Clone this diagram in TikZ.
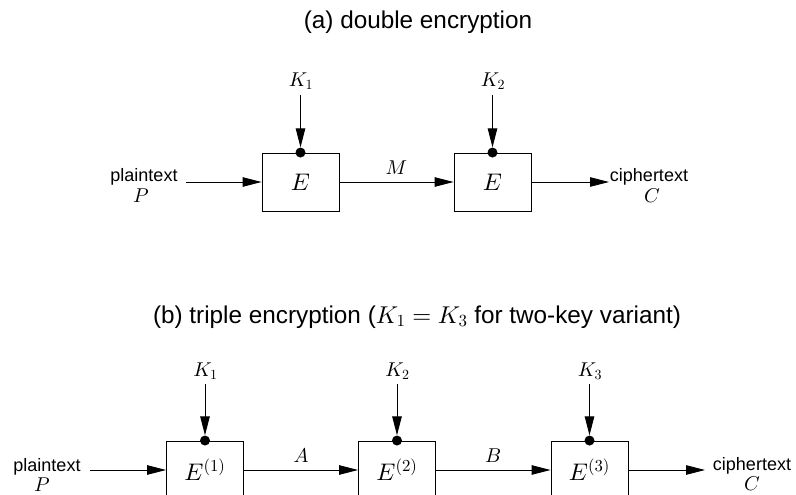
\documentclass[tikz,border=0pt]{standalone}
\usepackage{fontspec}
\setmainfont{Liberation Sans}
\DeclareFontFamily{OML}{cmm}{\skewchar\font127}
\DeclareFontShape{OML}{cmm}{m}{it}{<->cmmi10}{}
\DeclareFontFamily{OT1}{cmr}{\hyphenchar\font45}
\DeclareFontShape{OT1}{cmr}{m}{n}{<->cmr10}{}
\DeclareFontFamily{OMS}{cmsy}{\skewchar\font48}
\DeclareFontShape{OMS}{cmsy}{m}{n}{<->cmsy10}{}
\usetikzlibrary{arrows.meta}
\begin{document}
\begin{tikzpicture}[x=1pt,y=-1pt,
  box/.style={draw,line width=0.9pt,minimum width=77pt,minimum height=58pt,inner sep=0pt,font=\fontsize{24}{26}\selectfont},
  keydot/.style={circle,fill,inner sep=0pt,minimum size=10pt},
  lab/.style={font=\fontsize{18}{20}\selectfont,inner sep=0pt},
  mlab/.style={font=\fontsize{20}{22}\selectfont,inner sep=0pt},
  ttl/.style={font=\fontsize{24.3}{27}\selectfont,inner sep=0pt},
  arr/.style={line width=0.9pt,-{Triangle[length=19pt,width=9.5pt]}}]
\useasboundingbox (0,0) rectangle (796,495);
% ---------- (a) ----------
\node[ttl] (ta) at (418,22) {(a) double encryption};
\node[box] (a1) at (300.5,182) {$E$};
\node[box] (a2) at (492.5,182) {$E$};
\node[keydot] (ad1) at (a1.north) {};
\node[keydot] (ad2) at (a2.north) {};
\node[mlab] (ak1) at (301,81) {$K_1$};
\node[mlab] (ak2) at (493,81) {$K_2$};
\coordinate (ak1s) at (300.5,95);
\coordinate (ak2s) at (492.5,95);
\draw[arr] (ak1s) -- (ad1);
\draw[arr] (ak2s) -- (ad2);
\node[lab] (apl) at (144,177) {plaintext};
\node[mlab] (aP) at (141,196) {$P$};
\coordinate (ain) at (186,182);
\draw[arr] (ain) -- (a1.west);
\draw[arr] (a1.east) -- node[mlab,above=7pt] (aM) {$M$} (a2.west);
\coordinate (aout) at (609,182);
\draw[arr] (a2.east) -- (aout);
\node[lab] (acp) at (649,177) {ciphertext};
\node[mlab] (aC) at (652,196) {$C$};
% ---------- (b) ----------
\node[ttl] (tb) at (417,317) {(b) triple encryption ($K_1=K_3$ for two-key variant)};
\node[box] (b1) at (205,470) {$E^{(1)}$};
\node[box] (b2) at (397,470) {$E^{(2)}$};
\node[box] (b3) at (589.5,470) {$E^{(3)}$};
\node[keydot] (bd1) at (b1.north) {};
\node[keydot] (bd2) at (b2.north) {};
\node[keydot] (bd3) at (b3.north) {};
\node[mlab] (bk1) at (205.5,371) {$K_1$};
\node[mlab] (bk2) at (397.5,371) {$K_2$};
\node[mlab] (bk3) at (590,371) {$K_3$};
\coordinate (bk1s) at (205,384);
\coordinate (bk2s) at (397,384);
\coordinate (bk3s) at (589.5,384);
\draw[arr] (bk1s) -- (bd1);
\draw[arr] (bk2s) -- (bd2);
\draw[arr] (bk3s) -- (bd3);
\node[lab] (bpl) at (47,467) {plaintext};
\node[mlab] (bP) at (42,485) {$P$};
\coordinate (bin) at (90,470);
\draw[arr] (bin) -- (b1.west);
\draw[arr] (b1.east) -- node[mlab,above=7pt] (bA) {$A$} (b2.west);
\draw[arr] (b2.east) -- node[mlab,above=7pt] (bB) {$B$} (b3.west);
\coordinate (bout) at (705,470);
\draw[arr] (b3.east) -- (bout);
\node[lab] (bcp) at (752,466) {ciphertext};
\node[mlab] (bC) at (752,484) {$C$};
\end{tikzpicture}
\end{document}
